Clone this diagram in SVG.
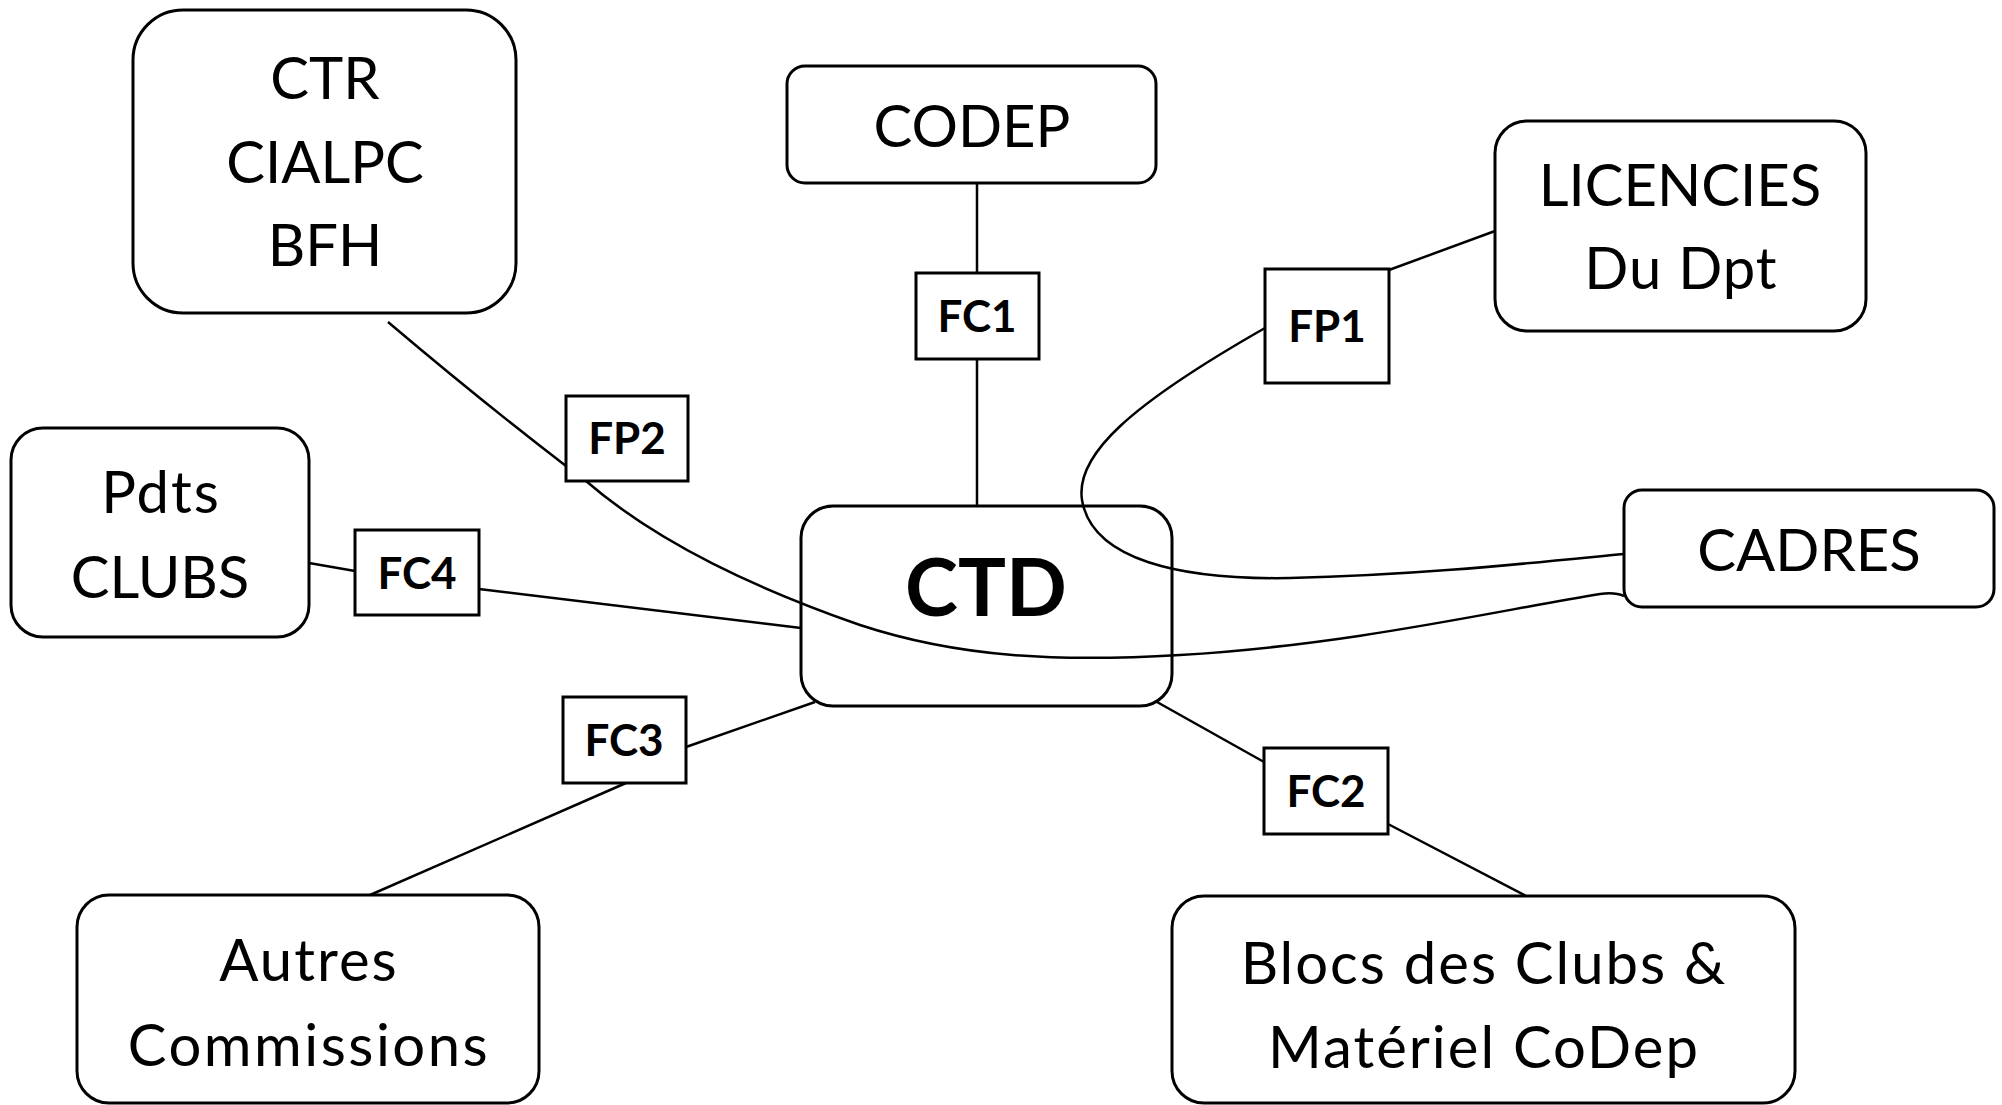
<svg xmlns="http://www.w3.org/2000/svg" width="2002" height="1105" viewBox="0 0 2002 1105">
<style>
.node{fill:#fff;stroke:#000;stroke-width:3}
.lab{fill:#fff;stroke:#000;stroke-width:3}
.t{font-family:Lato,"Open Sans","Liberation Sans",sans-serif;font-size:58px;text-anchor:middle;fill:#000}
.lw{letter-spacing:2px}
.tb{font-family:Lato,"Open Sans","Liberation Sans",sans-serif;font-size:44px;font-weight:bold;text-anchor:middle;fill:#000}
.ctd{font-family:Lato,"Open Sans","Liberation Sans",sans-serif;font-size:80px;font-weight:bold;text-anchor:middle;fill:#000}
.c{fill:none;stroke:#000;stroke-width:2.5}
</style>
<rect x="0" y="0" width="2002" height="1105" fill="#fff"/>
<g id="nodes">
<g id="n-ctr"><rect class="node" x="133" y="10" width="383" height="303" rx="50"/><text class="t" x="325" y="99">CTR</text><text class="t" x="325" y="183">CIALPC</text><text class="t" x="325" y="266">BFH</text></g>
<g id="n-codep"><rect class="node" x="787" y="66" width="369" height="117" rx="18"/><text class="t" x="972" y="147">CODEP</text></g>
<g id="n-lic"><rect class="node" x="1495" y="121" width="371" height="210" rx="32"/><text class="t" x="1680" y="206">LICENCIES</text><text class="t lw" x="1681" y="289" style="letter-spacing:1px">Du Dpt</text></g>
<g id="n-pdts"><rect class="node" x="11" y="428" width="298" height="209" rx="32"/><text class="t lw" x="161" y="513">Pdts</text><text class="t" x="160" y="598">CLUBS</text></g>
<g id="n-ctd"><rect class="node" x="801" y="506" width="371" height="200" rx="32"/><text class="ctd" x="986" y="616">CTD</text></g>
<g id="n-cadres"><rect class="node" x="1624" y="490" width="370" height="117" rx="18"/><text class="t" x="1809" y="571">CADRES</text></g>
<g id="n-autres"><rect class="node" x="77" y="895" width="462" height="208" rx="32"/><text class="t lw" x="309" y="981">Autres</text><text class="t lw" x="309" y="1066" style="letter-spacing:2.5px">Commissions</text></g>
<g id="n-blocs"><rect class="node" x="1172" y="896" width="623" height="207" rx="32"/><text class="t lw" x="1484" y="984">Blocs des Clubs &amp;</text><text class="t lw" x="1484" y="1068">Matériel CoDep</text></g>
</g>
<g id="connectors">
<line class="c" x1="977" y1="183" x2="977" y2="273"/>
<line class="c" x1="977" y1="359" x2="977" y2="506"/>
<line class="c" x1="309" y1="563" x2="355" y2="571"/>
<line class="c" x1="479" y1="589" x2="801" y2="628"/>
<line class="c" x1="815" y1="702" x2="686" y2="747"/>
<line class="c" x1="626" y1="783" x2="370" y2="895"/>
<line class="c" x1="1157" y1="702" x2="1264" y2="762"/>
<line class="c" x1="1388" y1="824" x2="1526" y2="896"/>
<line class="c" x1="1389" y1="270" x2="1495" y2="231"/>
<path class="c" d="M1265,328 C1130,405 1075,455 1082,500 C1092,560 1180,580 1290,578 C1420,575 1530,563 1624,554"/>
<path class="c" d="M388,322 Q480,400 566,466"/>
<path class="c" d="M586,481 C660,545 760,590 860,625 C960,658 1060,662 1180,655 C1350,645 1500,610 1600,594 Q1615,592 1624,596"/>
</g>
<g id="labels">
<g id="l-fc1"><rect class="lab" x="916" y="273" width="123" height="86"/><text class="tb" x="977" y="332">FC1</text></g>
<g id="l-fp1"><rect class="lab" x="1265" y="269" width="124" height="114"/><text class="tb" x="1327" y="342">FP1</text></g>
<g id="l-fp2"><rect class="lab" x="566" y="396" width="122" height="85"/><text class="tb" x="627" y="454">FP2</text></g>
<g id="l-fc4"><rect class="lab" x="355" y="530" width="124" height="85"/><text class="tb" x="417" y="589">FC4</text></g>
<g id="l-fc3"><rect class="lab" x="563" y="697" width="123" height="86"/><text class="tb" x="624" y="756">FC3</text></g>
<g id="l-fc2"><rect class="lab" x="1264" y="748" width="124" height="86"/><text class="tb" x="1326" y="807">FC2</text></g>
</g>
</svg>
